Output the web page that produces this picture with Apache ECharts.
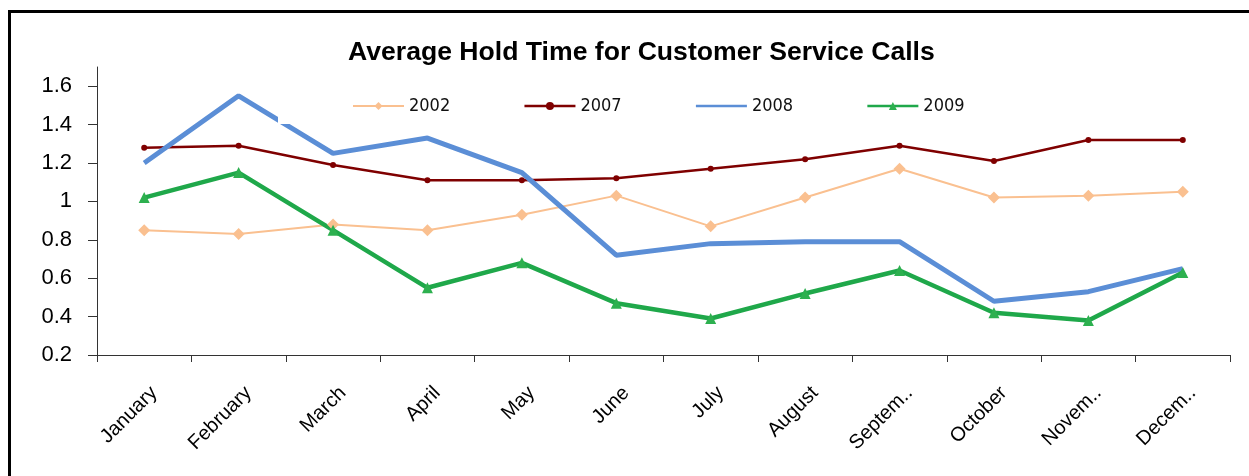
<!DOCTYPE html>
<html>
<head>
<meta charset="utf-8">
<title>Average Hold Time for Customer Service Calls</title>
<script src="https://cdn.jsdelivr.net/npm/echarts@6/dist/echarts.min.js"></script>
<style>
  html, body { margin: 0; padding: 0; background: #fff; }
  #chart { width: 1249px; height: 476px; }
</style>
</head>
<body>
<div id="chart"></div>
<script>
// Months on the category axis and the shortened labels drawn under it
const months = ['January', 'February', 'March', 'April', 'May', 'June',
  'July', 'August', 'September', 'October', 'November', 'December'];
const monthLabels = ['January', 'February', 'March', 'April', 'May', 'June',
  'July', 'August', 'Septem..', 'October', 'Novem..', 'Decem..'];

// Average hold time per month (minutes)
const hold2002 = [0.85, 0.83, 0.88, 0.85, 0.93, 1.03, 0.87, 1.02, 1.17, 1.02, 1.03, 1.05];
const hold2007 = [1.28, 1.29, 1.19, 1.11, 1.11, 1.12, 1.17, 1.22, 1.29, 1.21, 1.32, 1.32];
const hold2008 = [1.20, 1.55, 1.25, 1.33, 1.15, 0.72, 0.78, 0.79, 0.79, 0.48, 0.53, 0.65];
const hold2009 = [1.02, 1.15, 0.85, 0.55, 0.68, 0.47, 0.39, 0.52, 0.64, 0.42, 0.38, 0.63];

// Value-axis ticks
const yTicks = [0.2, 0.4, 0.6, 0.8, 1, 1.2, 1.4, 1.6];

const titleText = 'Average Hold Time for Customer Service Calls';
const baseFont = '"Liberation Sans", Arial, sans-serif';
const narrowFont = '"Liberation Sans Narrow", "Arial Narrow", "DejaVu Sans Condensed", sans-serif';

// centre the title over x = 641
const titleSize = 26.6;
const ctx = document.createElement('canvas').getContext('2d');
ctx.font = 'bold ' + titleSize + 'px ' + baseFont;
const titleWidth = ctx.measureText(titleText).width;

const chart = echarts.init(document.getElementById('chart'), null, { renderer: 'canvas' });

chart.setOption({
  animation: false,
  backgroundColor: '#ffffff',
  title: {
    text: titleText,
    left: Math.round(641 - titleWidth / 2),
    top: 38,
    padding: 0,
    textStyle: {
      fontFamily: baseFont,
      fontWeight: 'bold',
      fontSize: titleSize,
      lineHeight: 30,
      color: '#000'
    }
  },
  legend: {
    left: 278,
    top: 88,
    padding: [8, 74, 8, 74],
    itemGap: 73,
    itemWidth: 51,
    itemHeight: 10,
    backgroundColor: '#ffffff',
    selectedMode: false,
    textStyle: {
      fontFamily: narrowFont,
      fontSize: 18,
      lineHeight: 20,
      width: 40,
      color: '#111'
    },
    data: [
      { name: '2002', lineStyle: { width: 2 } },
      { name: '2007', lineStyle: { width: 2.5 } },
      { name: '2008', lineStyle: { width: 2.5 }, itemStyle: { opacity: 0 } },
      { name: '2009', lineStyle: { width: 2.5 } }
    ]
  },
  grid: {
    left: 97,
    right: 19,
    top: 67,
    bottom: 121,
    outerBoundsMode: 'none'
  },
  xAxis: {
    type: 'category',
    data: months,
    boundaryGap: true,
    axisLine: { lineStyle: { color: '#333', width: 1 } },
    axisTick: { show: true, length: 7, interval: 0, lineStyle: { color: '#333' } },
    axisLabel: {
      interval: 0,
      rotate: 45,
      margin: 25,
      verticalAlign: 'top',
      lineHeight: 28,
      fontFamily: baseFont,
      fontSize: 20,
      color: '#000',
      formatter: (v, i) => monthLabels[i]
    },
    splitLine: { show: false }
  },
  yAxis: {
    type: 'value',
    min: 0.2,
    max: 1.7,
    interval: 0.2,
    axisLine: { show: true, lineStyle: { color: '#333', width: 1 } },
    axisTick: { show: true, length: 9, lineStyle: { color: '#333' }, customValues: yTicks },
    axisLabel: {
      margin: 25,
      fontFamily: baseFont,
      fontSize: 22,
      color: '#000',
      customValues: yTicks,
      formatter: v => String(Math.round(v * 10) / 10)
    },
    splitLine: { show: false }
  },
  series: [
    {
      name: '2002',
      type: 'line',
      data: hold2002,
      symbol: 'diamond',
      symbolSize: 12,
      lineStyle: { color: '#FAC090', width: 2 },
      itemStyle: { color: '#FAC090' }
    },
    {
      name: '2007',
      type: 'line',
      data: hold2007,
      symbol: 'circle',
      symbolSize: 6,
      lineStyle: { color: '#7F0000', width: 2.5 },
      itemStyle: { color: '#7F0000' }
    },
    {
      name: '2008',
      type: 'line',
      data: hold2008,
      symbol: 'none',
      lineStyle: { color: '#5B8ED6', width: 5 },
      itemStyle: { color: '#5B8ED6' }
    },
    {
      name: '2009',
      type: 'line',
      data: hold2009,
      symbol: 'triangle',
      symbolSize: 11,
      lineStyle: { color: '#1FA84A', width: 4.5 },
      itemStyle: { color: '#2DB04F' }
    }
  ],
  graphic: [
    // frame edges along the top and left
    { type: 'rect', shape: { x: 8, y: 10, width: 1241, height: 3 }, style: { fill: '#000' }, silent: true },
    { type: 'rect', shape: { x: 8, y: 10, width: 3, height: 466 }, style: { fill: '#000' }, silent: true }
  ]
});
</script>
</body>
</html>
